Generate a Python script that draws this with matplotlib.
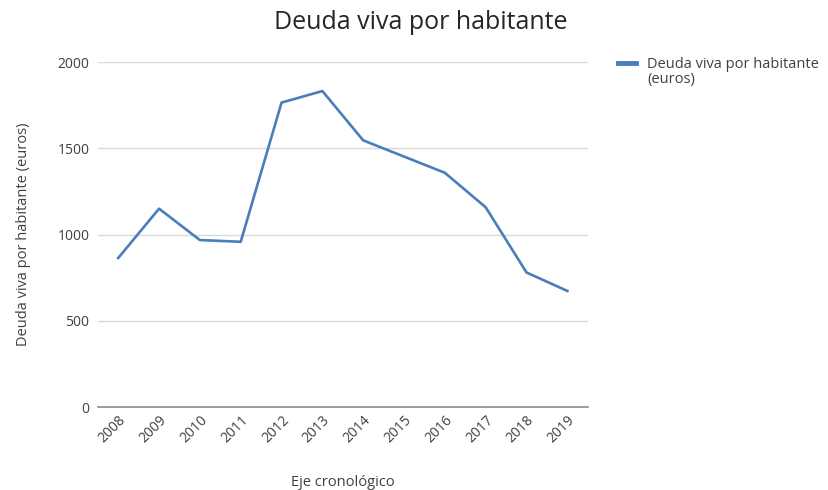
import matplotlib.pyplot as plt
from matplotlib.lines import Line2D

# Datos
anios = ['2008', '2009', '2010', '2011', '2012', '2013',
         '2014', '2015', '2016', '2017', '2018', '2019']
deuda = [865, 1151, 969, 959, 1766, 1833, 1547, 1453, 1359, 1159, 781, 674]
serie = 'Deuda viva por habitante\n(euros)'

plt.rcParams['font.family'] = ['Open Sans', 'DejaVu Sans']

fig = plt.figure(figsize=(8.29, 4.90), dpi=100)
ax = fig.add_axes([0.118, 0.169, 0.591, 0.704])

x = list(range(len(anios)))
ax.plot(x, deuda, color='#4a7ebb', linewidth=1.9)

ax.set_xlim(-0.5, len(anios) - 0.5)
ax.set_ylim(0, 2000)
ax.set_yticks([0, 500, 1000, 1500, 2000])
ax.set_xticks(x)
ax.set_xticklabels(anios, rotation=45, ha='right', rotation_mode='anchor')
ax.tick_params(axis='both', length=0, labelsize=10, colors='#404040', pad=6)
ax.tick_params(axis='x', pad=4)

ax.grid(axis='y', color='#d9d9d9', linewidth=1)
ax.set_axisbelow(True)
for s in ['top', 'right', 'left']:
    ax.spines[s].set_visible(False)
ax.spines['bottom'].set_color('#8c8c8c')
ax.spines['bottom'].set_linewidth(1.2)

ax.set_ylabel('Deuda viva por habitante (euros)', fontsize=10.5, color='#404040')
ax.yaxis.set_label_coords(-0.137, 0.5)
ax.set_xlabel('Eje cronológico', fontsize=10.5, color='#404040')
ax.xaxis.set_label_coords(0.5, -0.197)

fig.text(0.507, 0.955, 'Deuda viva por habitante', ha='center', va='center',
         fontsize=18, color='#262626')

# Leyenda (a mano, para alinear la marca con la primera linea)
fig.add_artist(Line2D([0.745, 0.767], [0.871, 0.871], color='#4a7ebb',
                      linewidth=3.5, transform=fig.transFigure))
fig.text(0.781, 0.884, serie, ha='left', va='top', fontsize=10.5,
         color='#404040', linespacing=1.0)

fig.savefig('out.png', dpi=100)
